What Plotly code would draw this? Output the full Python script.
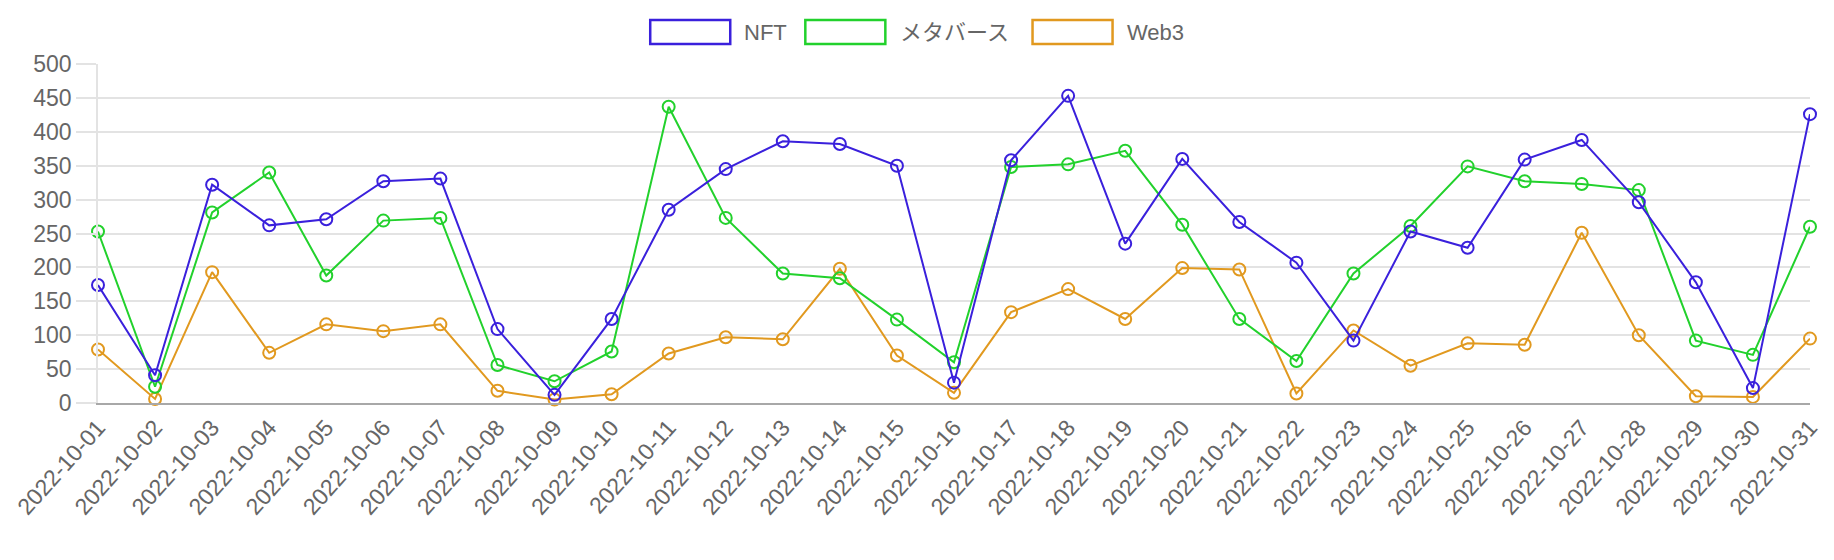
import plotly.graph_objects as go

dates = [f"2022-10-{d:02d}" for d in range(1, 32)]
nft = [174, 41, 322, 262, 271, 327, 331, 109, 12, 124, 285, 345, 386, 382, 350, 30,
       358, 453, 235, 360, 267, 207, 92, 253, 229, 359, 388, 296, 178, 22, 426]
metaverse = [253, 24, 281, 340, 188, 269, 273, 56, 32, 76, 437, 273, 191, 184, 123, 60,
             348, 352, 372, 263, 124, 62, 191, 261, 349, 327, 323, 314, 92, 71, 260]
web3 = [79, 6, 193, 74, 116, 106, 116, 18, 5, 13, 73, 97, 94, 198, 70, 15,
        134, 168, 124, 199, 197, 14, 107, 55, 88, 86, 251, 100, 10, 9, 95]

series_names = ["NFT", "メタバース", "Web3"]
series_values = [nft, metaverse, web3]
colors = ["#3a20dc", "#22d12c", "#e1991f"]

W, H = 1834, 560
L, R, T, B = 87, 14, 64, 157
FONT = "Liberation Sans, Arial, Noto Sans CJK JP, sans-serif"

fig = go.Figure()
for name, vals, col in reversed(list(zip(series_names, series_values, colors))):
    fig.add_trace(go.Scatter(
        x=dates, y=vals, name=name, mode="lines+markers",
        line=dict(color=col, width=2),
        marker=dict(symbol="circle-open", size=12, color=col, line=dict(width=2, color=col)),
        cliponaxis=False, showlegend=False,
    ))

# custom legend (chart.js style boxes)
pw = W - L - R
ph = H - T - B
def px2x(p):
    return (p - L) / pw
def py2y(p):
    return (H - B - p) / ph

legend_items = [(646, 739), (803, 897), (1033, 1127)]
for (bx, tx), name, col in zip(legend_items, series_names, colors):
    fig.add_shape(type="rect", xref="paper", yref="paper",
                  x0=px2x(bx), x1=px2x(bx + 81), y0=py2y(44), y1=py2y(20),
                  line=dict(color=col, width=2.5), fillcolor="rgba(0,0,0,0)")
    fig.add_annotation(xref="paper", yref="paper", x=px2x(tx), y=py2y(32),
                       text=name, showarrow=False, xanchor="left", yanchor="middle",
                       font=dict(size=22, color="#666666", family=FONT))

fig.update_layout(
    width=W, height=H,
    margin=dict(l=L, r=R, t=T, b=B, pad=0),
    plot_bgcolor="white", paper_bgcolor="white",
    font=dict(family=FONT, size=23, color="#666666"),
    showlegend=False,
)
fig.update_xaxes(
    type="category", range=[0, len(dates) - 1],
    showgrid=False, tickangle=-48,
    showline=True, linecolor="#a8a8a8", linewidth=2,
    ticks="", tickfont=dict(size=23, color="#666666"),
    zeroline=False,
)
fig.update_yaxes(
    range=[0, 500], dtick=50, tick0=0,
    showgrid=True, gridcolor="#e3e3e3", gridwidth=1.5,
    ticks="outside", ticklen=20, tickcolor="#e3e3e3", tickwidth=1.5,
    showline=True, linecolor="#e3e3e3", linewidth=1.5,
    zeroline=False, tickfont=dict(size=23, color="#666666"),
)

fig.write_html("out.html",
               config={"displayModeBar": False},
               post_script="document.body.style.margin='0';document.body.style.overflow='hidden';")
